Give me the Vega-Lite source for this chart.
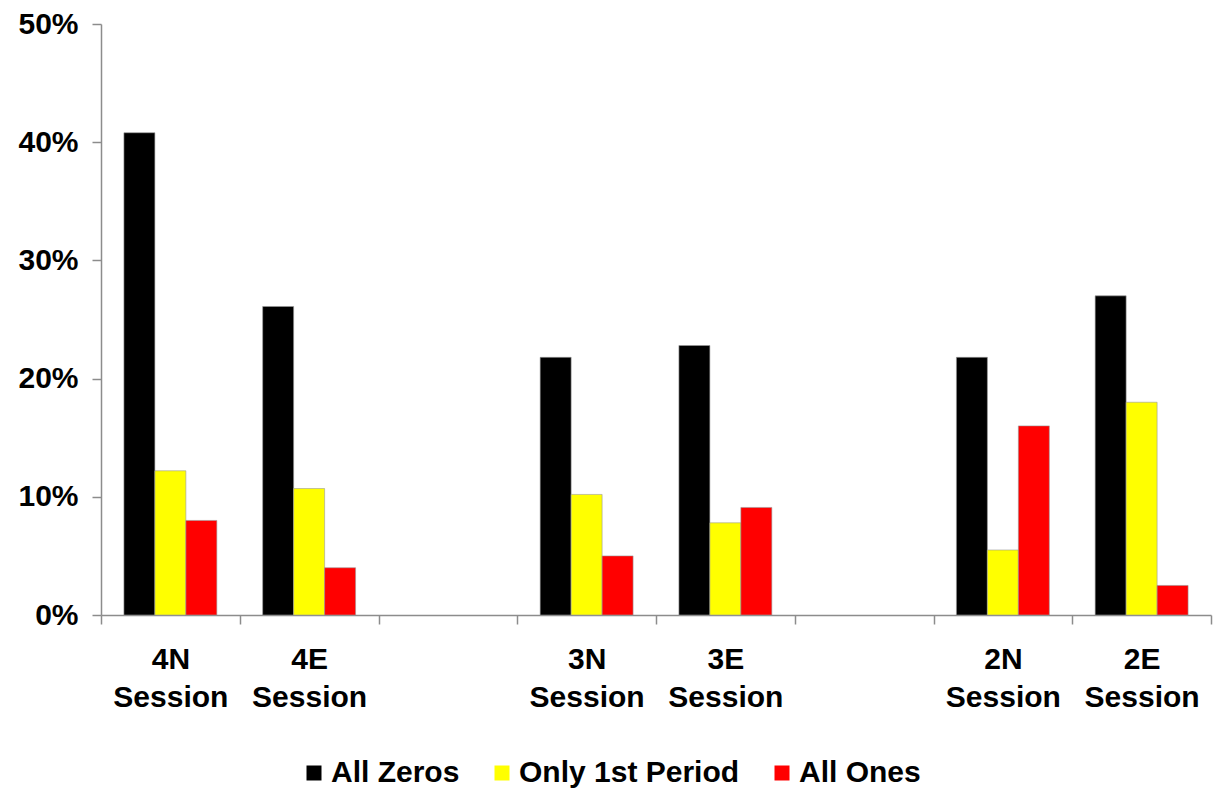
{
  "$schema": "https://vega.github.io/schema/vega-lite/v6.json",
  "width": 1110,
  "height": 591,
  "padding": {"left": 17, "top": 9, "right": 4, "bottom": 5},
  "background": "white",
  "data": {
    "values": [
      {"session": "4N Session", "type": "All Zeros", "value": 0.408},
      {"session": "4N Session", "type": "Only 1st Period", "value": 0.122},
      {"session": "4N Session", "type": "All Ones", "value": 0.080},
      {"session": "4E Session", "type": "All Zeros", "value": 0.261},
      {"session": "4E Session", "type": "Only 1st Period", "value": 0.107},
      {"session": "4E Session", "type": "All Ones", "value": 0.040},
      {"session": "3N Session", "type": "All Zeros", "value": 0.218},
      {"session": "3N Session", "type": "Only 1st Period", "value": 0.102},
      {"session": "3N Session", "type": "All Ones", "value": 0.050},
      {"session": "3E Session", "type": "All Zeros", "value": 0.228},
      {"session": "3E Session", "type": "Only 1st Period", "value": 0.078},
      {"session": "3E Session", "type": "All Ones", "value": 0.091},
      {"session": "2N Session", "type": "All Zeros", "value": 0.218},
      {"session": "2N Session", "type": "Only 1st Period", "value": 0.055},
      {"session": "2N Session", "type": "All Ones", "value": 0.160},
      {"session": "2E Session", "type": "All Zeros", "value": 0.270},
      {"session": "2E Session", "type": "Only 1st Period", "value": 0.180},
      {"session": "2E Session", "type": "All Ones", "value": 0.025}
    ]
  },
  "mark": {"type": "bar", "stroke": "#9a9a9a", "strokeWidth": 0.6},
  "encoding": {
    "x": {
      "field": "session",
      "type": "nominal",
      "sort": null,
      "scale": {
        "domain": ["4N Session", "4E Session", "_1", "3N Session", "3E Session", "_2", "2N Session", "2E Session"],
        "paddingInner": 0,
        "paddingOuter": 0
      },
      "axis": {
        "title": null,
        "labelAngle": 0,
        "labelExpr": "indexof(datum.label, '_') == 0 ? '' : split(datum.label, ' ')",
        "labelFont": "Liberation Sans",
        "labelFontWeight": "bold",
        "labelFontSize": 30,
        "labelColor": "black",
        "labelLineHeight": 38,
        "labelPadding": 20,
        "tickBand": "extent",
        "tickSize": 9,
        "tickColor": "#8c8c8c",
        "domainColor": "#8c8c8c",
        "domainWidth": 1.5,
        "tickWidth": 1.5
      }
    },
    "xOffset": {
      "field": "type",
      "type": "nominal",
      "sort": ["All Zeros", "Only 1st Period", "All Ones"],
      "scale": {"paddingInner": 0, "paddingOuter": 0.74}
    },
    "y": {
      "field": "value",
      "type": "quantitative",
      "scale": {"domain": [0, 0.5]},
      "axis": {
        "title": null,
        "format": ".0%",
        "values": [0, 0.1, 0.2, 0.3, 0.4, 0.5],
        "grid": false,
        "labelFont": "Liberation Sans",
        "labelFontWeight": "bold",
        "labelFontSize": 30,
        "labelColor": "black",
        "labelPadding": 14,
        "tickSize": 9,
        "tickColor": "#8c8c8c",
        "domainColor": "#8c8c8c",
        "domainWidth": 1.5,
        "tickWidth": 1.5
      }
    },
    "color": {
      "field": "type",
      "type": "nominal",
      "sort": ["All Zeros", "Only 1st Period", "All Ones"],
      "scale": {
        "domain": ["All Zeros", "Only 1st Period", "All Ones"],
        "range": ["#000000", "#ffff00", "#ff0000"]
      },
      "legend": {
        "title": null,
        "orient": "none",
        "legendX": 198,
        "legendY": 734,
        "direction": "horizontal",
        "symbolType": "square",
        "symbolSize": 225,
        "symbolStrokeWidth": 0,
        "labelFont": "Liberation Sans",
        "labelFontWeight": "bold",
        "labelFontSize": 30,
        "labelColor": "black",
        "labelLimit": 0,
        "labelOffset": 2,
        "columnPadding": 27
      }
    }
  },
  "config": {"view": {"stroke": null}}
}
